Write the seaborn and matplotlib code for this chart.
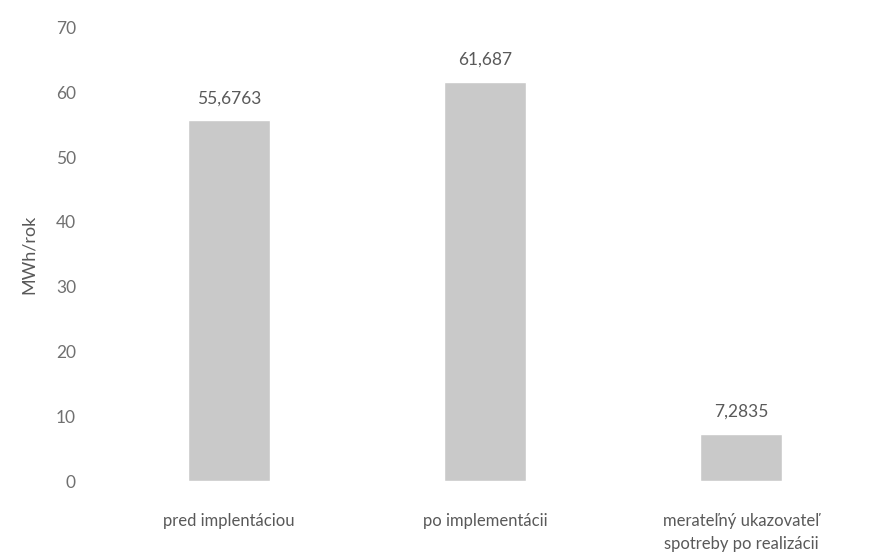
import matplotlib
matplotlib.use('Agg')
import matplotlib.pyplot as plt
import seaborn as sns
import pandas as pd

# data
kategorie = ['pred implentáciou', 'po implementácii', 'merateľný ukazovateľ\nspotreby po realizácii']
hodnoty = [55.6763, 61.687, 7.2835]
popisky = ['55,6763', '61,687', '7,2835']
y_ticks = [0, 10, 20, 30, 40, 50, 60, 70]

sns.set_style('white')
plt.rcParams['font.family'] = ['Lato', 'DejaVu Sans']

df = pd.DataFrame({'kategoria': kategorie, 'hodnota': hodnoty})

fig, ax = plt.subplots(figsize=(8.78, 5.53), dpi=100)
sns.barplot(data=df, x='kategoria', y='hodnota', color='#c9c9c9',
            width=0.32, saturation=1, ax=ax)

for i, (v, t) in enumerate(zip(hodnoty, popisky)):
    ax.text(i, v + 2.2, t, ha='center', va='bottom', fontsize=12.5, color='#595959')

ax.set_ylim(0, 70)
ax.set_yticks(y_ticks)
ax.set_ylabel('MWh/rok', fontsize=13, color='#595959', labelpad=14)
ax.set_xlabel('')
ax.tick_params(axis='y', length=0, labelsize=12.5, colors='#707070', pad=18)
ax.tick_params(axis='x', length=0, labelsize=12, colors='#595959', pad=23)
for lbl in ax.get_xticklabels():
    lbl.set_linespacing(1.55)
sns.despine(left=True, bottom=True)

fig.subplots_adjust(left=0.115, right=0.99, top=0.95, bottom=0.13)
fig.savefig('out.png', dpi=100)
